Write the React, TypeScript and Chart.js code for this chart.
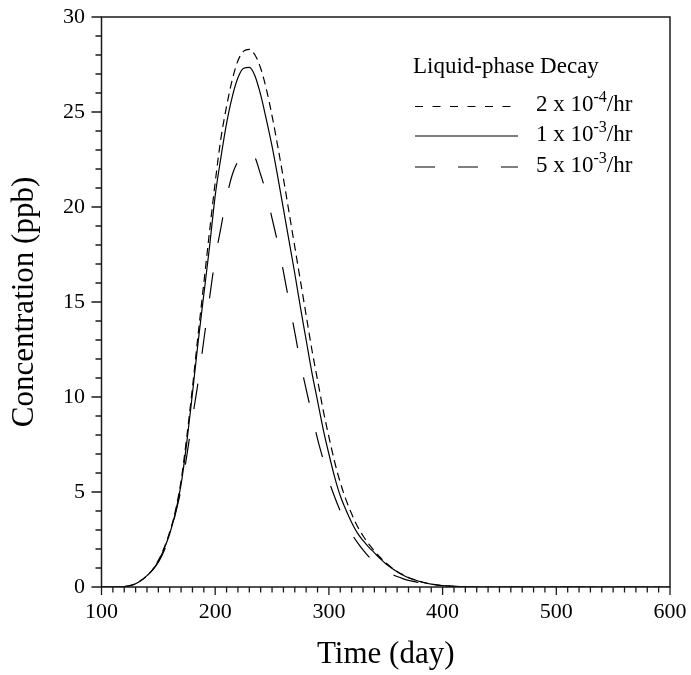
import React, { useEffect, useRef } from "react";
import { Chart, registerables } from "chart.js";

Chart.register(...registerables);

// ---- data ----
const days = [
  100, 110, 120,
  125, 130, 135, 140, 145, 150, 155, 160, 165, 170,
  175, 180, 185, 190, 195, 200, 205, 210, 215, 220,
  225, 230, 235, 240, 245, 250, 255, 260, 265, 270,
  275, 280, 285, 290, 295, 300, 305, 310, 315, 320,
  325, 330, 335, 340, 345, 350, 355, 360, 365, 370,
  375, 380, 385, 390, 395, 400,
  410, 420, 440, 460, 480, 500, 550, 600,
];

// Liquid-phase decay 2 x 10^-4 /hr (short dash)
const decay2e4 = [
  0, 0, 0.02,
  0.07, 0.17, 0.35, 0.6, 0.92, 1.4, 2.05, 2.9, 4.0, 5.6,
  7.9, 10.5, 13.3, 16.0, 18.7, 21.3, 23.6, 25.3, 26.7, 27.7,
  28.2, 28.3, 28.0, 27.3, 26.2, 24.8, 23.2, 21.5, 19.7, 17.9,
  16.1, 14.3, 12.5, 10.9, 9.3, 7.9, 6.6, 5.5, 4.6, 3.85,
  3.2, 2.7, 2.27, 1.9, 1.57, 1.28, 1.03, 0.82, 0.65, 0.5,
  0.39, 0.3, 0.22, 0.16, 0.11, 0.07,
  0.03, 0.01, 0, 0, 0, 0, 0, 0,
];

// Liquid-phase decay 1 x 10^-3 /hr (solid)
const decay1e3 = [
  0, 0, 0.02,
  0.07, 0.17, 0.35, 0.6, 0.9, 1.35, 2.0, 2.8, 3.9, 5.4,
  7.6, 10.2, 12.9, 15.4, 17.9, 20.6, 22.6, 24.4, 25.8, 26.8,
  27.3, 27.35, 26.9, 25.9, 24.6, 23.2, 21.6, 19.9, 18.2, 16.5,
  14.7, 13.0, 11.3, 9.8, 8.3, 7.0, 5.8, 4.8, 4.05, 3.4,
  2.85, 2.45, 2.1, 1.8, 1.5, 1.22, 1.0, 0.8, 0.63, 0.49,
  0.38, 0.29, 0.21, 0.15, 0.1, 0.07,
  0.03, 0.01, 0, 0, 0, 0, 0, 0,
];

// Liquid-phase decay 5 x 10^-3 /hr (long dash)
const decay5e3 = [
  0, 0, 0.02,
  0.07, 0.17, 0.35, 0.6, 0.9, 1.3, 1.9, 2.65, 3.85, 5.15,
  6.9, 8.9, 10.8, 13.0, 15.2, 17.3, 18.9, 20.5, 21.7, 22.4,
  22.85, 23.0, 22.6, 21.7, 20.7, 19.4, 18.1, 16.6, 15.0, 13.4,
  11.8, 10.4, 9.1, 7.8, 6.7, 5.6, 4.75, 4.0, 3.35, 2.8,
  2.35, 1.95, 1.6, 1.3, 1.05, 0.85, 0.68, 0.55, 0.44, 0.35,
  0.28, 0.22, 0.16, 0.12, 0.09, 0.06,
  0.03, 0.01, 0, 0, 0, 0, 0, 0,
];

const X_MIN = 100;
const X_MAX = 600;
const X_MAJOR = 100;
const X_MINOR = 10;
const Y_MIN = 0;
const Y_MAX = 30;
const Y_MAJOR = 5;
const Y_MINOR = 1;

const xTitle = "Time (day)";
const yTitle = "Concentration (ppb)";
const legendTitle = "Liquid-phase Decay";
const legendEntries = [
  { base: "2 x 10", sup: "-4", tail: "/hr", dash: [8, 9.5] },
  { base: "1 x 10", sup: "-3", tail: "/hr", dash: [] as number[] },
  { base: "5 x 10", sup: "-3", tail: "/hr", dash: [20, 23] },
];

const SERIF = "'Liberation Serif', 'Times New Roman', serif";

const pts = (ys: number[]) => days.map((d, i) => ({ x: d, y: ys[i] }));

const zeroPad = (s: any) => {
  s.paddingTop = 0;
  s.paddingBottom = 0;
  s.paddingLeft = 0;
  s.paddingRight = 0;
};

const axisPlugin = {
  id: "axisTicksAndLegend",
  afterDraw(chart: any) {
    const { ctx, chartArea: a, scales } = chart;
    const xs = scales.x;
    const ys = scales.y;
    ctx.save();
    // ticks
    ctx.strokeStyle = "#1a1a1a";
    ctx.lineWidth = 1.3;
    ctx.beginPath();
    for (let v = X_MIN; v <= X_MAX + 1e-9; v += X_MINOR) {
      const px = xs.getPixelForValue(v);
      const major = Math.abs(v % X_MAJOR) < 1e-6;
      ctx.moveTo(px, a.bottom);
      ctx.lineTo(px, a.bottom + (major ? 8 : 5.5));
    }
    for (let v = Y_MIN; v <= Y_MAX + 1e-9; v += Y_MINOR) {
      const py = ys.getPixelForValue(v);
      const major = Math.abs(v % Y_MAJOR) < 1e-6;
      ctx.moveTo(a.left, py);
      ctx.lineTo(a.left - (major ? 10 : 6), py);
    }
    ctx.stroke();
    // frame
    ctx.lineWidth = 1.5;
    ctx.strokeRect(a.left, a.top, a.right - a.left, a.bottom - a.top);

    // legend
    ctx.fillStyle = "#000";
    ctx.textBaseline = "alphabetic";
    ctx.textAlign = "left";
    ctx.font = `23px ${SERIF}`;
    ctx.fillText(legendTitle, 413, 73);
    const lineX0 = 415;
    const lineX1 = 518;
    const textX = 536;
    const rowY = [106.5, 136, 167];
    legendEntries.forEach((e, i) => {
      const y = rowY[i];
      ctx.strokeStyle = "#000";
      ctx.lineWidth = 1.2;
      ctx.setLineDash(e.dash);
      ctx.beginPath();
      ctx.moveTo(lineX0, y);
      ctx.lineTo(lineX1, y);
      ctx.stroke();
      ctx.setLineDash([]);
      const base = y + 4.5;
      ctx.font = `23px ${SERIF}`;
      ctx.fillText(e.base, textX, base);
      let x = textX + ctx.measureText(e.base).width;
      ctx.font = `16px ${SERIF}`;
      ctx.fillText(e.sup, x, base - 9);
      x += ctx.measureText(e.sup).width;
      ctx.font = `23px ${SERIF}`;
      ctx.fillText(e.tail, x, base);
    });
    ctx.restore();
  },
};

export default function App() {
  const ref = useRef<HTMLCanvasElement>(null);
  useEffect(() => {
    document.body.style.margin = "0";
    const common = {
      borderColor: "#000",
      borderWidth: 1.2,
      pointRadius: 0,
      fill: false,
      cubicInterpolationMode: "monotone" as const,
    };
    const chart = new Chart(ref.current as HTMLCanvasElement, {
      type: "line",
      data: {
        datasets: [
          { ...common, label: "2 x 10-4/hr", data: pts(decay2e4), borderDash: [8, 5] },
          { ...common, label: "1 x 10-3/hr", data: pts(decay1e3) },
          { ...common, label: "5 x 10-3/hr", data: pts(decay5e3), borderDash: [26, 30] },
        ],
      },
      options: {
        responsive: false,
        animation: false,
        layout: { autoPadding: false, padding: { top: 17, right: 21, left: 0, bottom: 0 } },
        plugins: { legend: { display: false }, tooltip: { enabled: false } },
        scales: {
          x: {
            type: "linear",
            min: X_MIN,
            max: X_MAX,
            grid: { display: false, drawTicks: false },
            border: { display: false },
            ticks: {
              stepSize: X_MAJOR,
              color: "#000",
              font: { family: SERIF, size: 22 },
              padding: 12,
              maxRotation: 0,
            },
            title: {
              display: true,
              text: xTitle,
              color: "#000",
              font: { family: SERIF, size: 31 },
              padding: { top: 0, bottom: 2 },
            },
            afterFit: (s: any) => {
              s.height = 88;
              zeroPad(s);
            },
          },
          y: {
            type: "linear",
            min: Y_MIN,
            max: Y_MAX,
            grid: { display: false, drawTicks: false },
            border: { display: false },
            ticks: {
              stepSize: Y_MAJOR,
              color: "#000",
              font: { family: SERIF, size: 22 },
              padding: 16.5,
            },
            title: {
              display: true,
              text: yTitle,
              color: "#000",
              font: { family: SERIF, size: 31 },
              padding: { top: 6, bottom: 0 },
            },
            afterFit: (s: any) => {
              s.width = 101.5;
              zeroPad(s);
            },
          },
        },
      },
      plugins: [axisPlugin],
    });
    return () => chart.destroy();
  }, []);
  return (
    <div style={{ width: 691, height: 675, position: "relative" }}>
      <canvas ref={ref} width={691} height={675} style={{ display: "block" }} />
    </div>
  );
}
